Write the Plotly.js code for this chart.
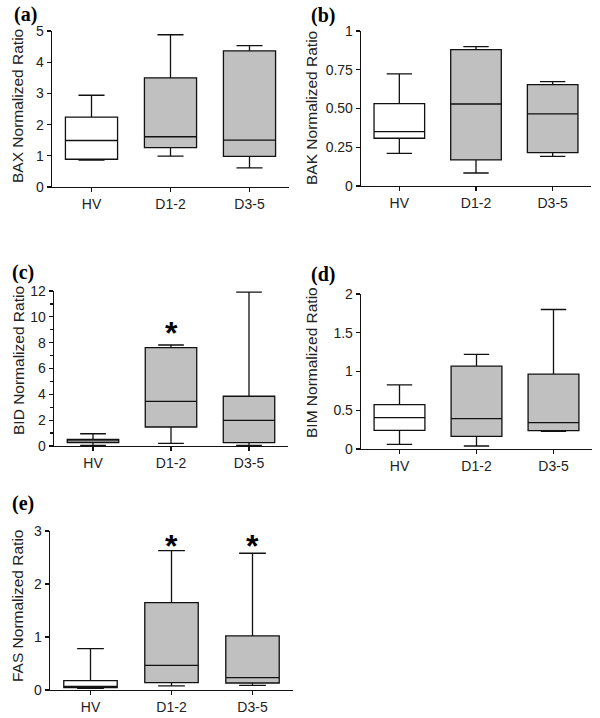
<!DOCTYPE html>
<html>
<head>
<meta charset="utf-8">
<script src="https://cdn.plot.ly/plotly-3.0.1.min.js"></script>
<style>html,body{margin:0;padding:0;background:#fff;}#chart{width:600px;height:718px;}</style>
</head>
<body>
<div id="chart"></div>
<script>
// ---- data ----
const categories = ['HV', 'D1-2', 'D3-5'];

const baxLow = [0.86, 0.99, 0.61];
const baxQ1 = [0.89, 1.26, 0.98];
const baxMedian = [1.49, 1.61, 1.50];
const baxQ3 = [2.24, 3.50, 4.36];
const baxHigh = [2.94, 4.88, 4.53];

const bakLow = [0.211, 0.084, 0.191];
const bakQ1 = [0.308, 0.168, 0.215];
const bakMedian = [0.351, 0.529, 0.465];
const bakQ3 = [0.531, 0.880, 0.654];
const bakHigh = [0.723, 0.899, 0.673];

const bidLow = [0.05, 0.21, 0.05];
const bidQ1 = [0.26, 1.47, 0.26];
const bidMedian = [0.39, 3.46, 1.99];
const bidQ3 = [0.52, 7.61, 3.85];
const bidHigh = [0.95, 7.82, 11.92];

const bimLow = [0.060, 0.039, 0.228];
const bimQ1 = [0.241, 0.164, 0.237];
const bimMedian = [0.405, 0.392, 0.341];
const bimQ3 = [0.573, 1.069, 0.966];
const bimHigh = [0.828, 1.22, 1.80];

const fasLow = [0.03, 0.076, 0.088];
const fasQ1 = [0.044, 0.139, 0.132];
const fasMedian = [0.069, 0.466, 0.233];
const fasQ3 = [0.176, 1.65, 1.02];
const fasHigh = [0.78, 2.63, 2.58];

const bidStarCats = ['D1-2'];
const bidStarY = [9.24];
const fasStarCats = ['D1-2', 'D3-5'];
const fasStarY = [2.83, 2.83];

const bakTickVals = [0, 0.25, 0.5, 0.75, 1];
const bakTickText = ['0', '0.25', '0.50', '0.75', '1'];

// ---- styles ----
const boxFill = ['#ffffff', '#c0c0c0', '#c0c0c0'];
const W = 600, H = 718;
const px = v => v / W;
const py = v => 1 - v / H;

const panels = [
  {id: '', title: 'BAX Normalized Ratio', label: '(a)', low: baxLow, q1: baxQ1, med: baxMedian, q3: baxQ3, high: baxHigh,
   x: [52, 289], y: [31, 187], range: [0, 5], dtick: 1, titlePos: [17, 106], labelPos: [25, 14]},
  {id: '2', title: 'BAK Normalized Ratio', label: '(b)', low: bakLow, q1: bakQ1, med: bakMedian, q3: bakQ3, high: bakHigh,
   x: [361, 591], y: [31, 186], range: [0, 1], tickvals: bakTickVals, ticktext: bakTickText, titlePos: [312, 108], labelPos: [323, 15]},
  {id: '3', title: 'BID Normalized Ratio', label: '(c)', low: bidLow, q1: bidQ1, med: bidMedian, q3: bidQ3, high: bidHigh,
   x: [54, 288], y: [291, 446], range: [0, 12], dtick: 2, minor: 1, titlePos: [19, 361], labelPos: [23, 272],
   starCats: bidStarCats, starY: bidStarY},
  {id: '4', title: 'BIM Normalized Ratio', label: '(d)', low: bimLow, q1: bimQ1, med: bimMedian, q3: bimQ3, high: bimHigh,
   x: [361, 592], y: [294, 449], range: [0, 2], dtick: 0.5, titlePos: [311, 363], labelPos: [323, 274]},
  {id: '5', title: 'FAS Normalized Ratio', label: '(e)', low: fasLow, q1: fasQ1, med: fasMedian, q3: fasQ3, high: fasHigh,
   x: [50, 293], y: [531, 690], range: [0, 3], dtick: 1, titlePos: [17, 606], labelPos: [23, 504],
   starCats: fasStarCats, starY: fasStarY}
];

const traces = [];
const annotations = [];
const layout = {
  width: W, height: H,
  margin: {l: 0, r: 0, t: 0, b: 0},
  paper_bgcolor: '#fff', plot_bgcolor: '#fff',
  showlegend: false,
  boxmode: 'overlay',
  font: {family: 'Liberation Sans, Arial, sans-serif', size: 14, color: '#222'}
};

const axisCommon = {
  showline: true, linecolor: '#111', linewidth: 1.3,
  ticks: 'outside', ticklen: 4, tickwidth: 1.3, tickcolor: '#111',
  showgrid: false, zeroline: false, fixedrange: true,
  tickfont: {family: 'Liberation Sans, Arial, sans-serif', size: 14, color: '#222'}
};

panels.forEach(p => {
  const xa = 'x' + p.id, ya = 'y' + p.id;
  categories.forEach((c, i) => {
    traces.push({
      type: 'box', xaxis: xa, yaxis: ya,
      x: [c], q1: [p.q1[i]], median: [p.med[i]], q3: [p.q3[i]],
      lowerfence: [p.low[i]], upperfence: [p.high[i]],
      boxpoints: false, width: 0.66, whiskerwidth: 0.5,
      fillcolor: boxFill[i], line: {color: '#111', width: 1.3},
      hoverinfo: 'skip'
    });
  });
  layout['xaxis' + p.id] = Object.assign({}, axisCommon, {
    domain: [px(p.x[0]), px(p.x[1])], anchor: ya,
    type: 'category', categoryorder: 'array', categoryarray: categories,
    range: [-0.5, 2.5]
  });
  const yax = Object.assign({}, axisCommon, {
    domain: [py(p.y[1]), py(p.y[0])], anchor: xa,
    range: p.range
  });
  if (p.tickvals) { yax.tickmode = 'array'; yax.tickvals = p.tickvals; yax.ticktext = p.ticktext; }
  else { yax.dtick = p.dtick; yax.tick0 = 0; }
  if (p.minor) yax.minor = {dtick: p.minor, ticks: 'outside', ticklen: 3, tickwidth: 1.2, tickcolor: '#111', showgrid: false};
  layout['yaxis' + p.id] = yax;

  annotations.push({
    xref: 'paper', yref: 'paper', x: px(p.titlePos[0]), y: py(p.titlePos[1]),
    text: p.title, textangle: -90, showarrow: false, xanchor: 'center', yanchor: 'middle',
    font: {family: 'Liberation Sans, Arial, sans-serif', size: 15.5, color: '#222'}
  });
  annotations.push({
    xref: 'paper', yref: 'paper', x: px(p.labelPos[0]), y: py(p.labelPos[1]),
    text: '<b>' + p.label + '</b>', showarrow: false, xanchor: 'center', yanchor: 'middle',
    font: {family: 'Liberation Serif, Times New Roman, serif', size: 20, color: '#000'}
  });
  if (p.starCats) {
    p.starCats.forEach((c, k) => {
      annotations.push({
        xref: xa, yref: ya, x: c, y: p.starY[k], text: '<b>*</b>', showarrow: false,
        xanchor: 'center', yanchor: 'middle', yshift: -6,
        font: {family: 'Liberation Sans, Arial, sans-serif', size: 32, color: '#000'}
      });
    });
  }
});
layout.annotations = annotations;

Plotly.newPlot('chart', traces, layout, {displayModeBar: false, staticPlot: true});
</script>
</body>
</html>
